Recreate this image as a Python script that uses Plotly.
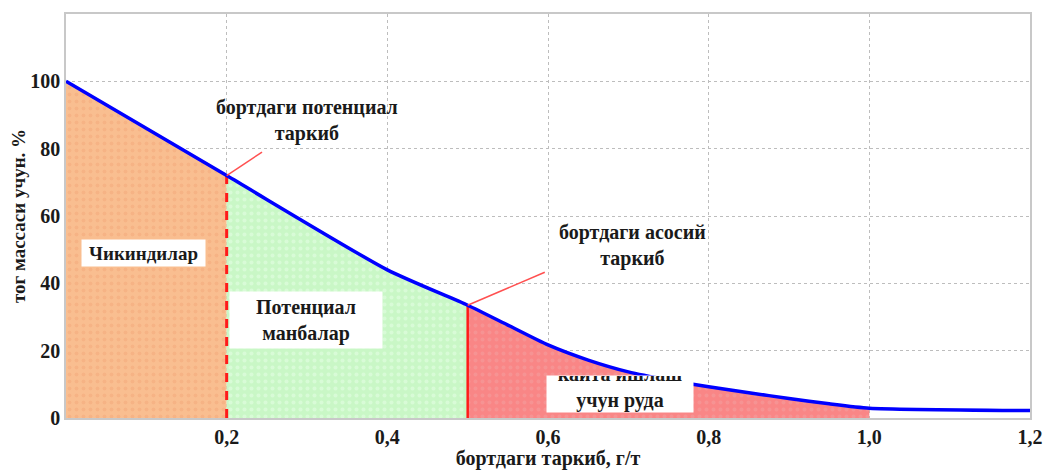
import plotly.graph_objects as go

# Data
grade = [0.0, 0.2, 0.4, 0.5, 0.55, 0.6, 0.65, 0.7, 0.75, 0.8, 0.85, 0.9, 0.95, 1.0, 1.2]
mass_pct = [100, 72, 44, 33.5, 27.6, 21.7, 17.2, 13.7, 11.3, 9.3, 7.5, 5.8, 4.2, 2.9, 2.2]
x_ticks = [0.2, 0.4, 0.6, 0.8, 1.0, 1.2]
x_tick_labels = ["0,2", "0,4", "0,6", "0,8", "1,0", "1,2"]
y_ticks = [0, 20, 40, 60, 80, 100]
y_tick_labels = ["0", "20", "40", "60", "80", "100"]
potential_cutoff = 0.2
main_cutoff = 0.5
reprocess_end = 1.0

FONT = "Liberation Serif"
TXT = "#1a1a1a"

def segment(x0, x1):
    xs = [x for x in grade if x0 <= x <= x1]
    ys = [y for x, y in zip(grade, mass_pct) if x0 <= x <= x1]
    return xs, ys

def y_at(xv):
    return mass_pct[grade.index(xv)]

fig = go.Figure()

regions = [
    (0.0, potential_cutoff, "#F9BE90", "#F3A87A"),
    (potential_cutoff, main_cutoff, "#C9F7C6", "#E8FFE8"),
    (main_cutoff, reprocess_end, "#F98686", "#F3A0A0"),
]
for x0, x1, col, dot in regions:
    xs, ys = segment(x0, x1)
    fig.add_trace(go.Scatter(
        x=xs, y=ys, mode="lines", line=dict(width=0, color=col, shape="spline", smoothing=0.6),
        fill="tozeroy", fillcolor=col,
        fillpattern=dict(shape=".", bgcolor=col, fgcolor=dot, size=7, solidity=0.25),
        hoverinfo="skip", showlegend=False))

# cutoff lines
fig.add_trace(go.Scatter(x=[potential_cutoff, potential_cutoff], y=[0, y_at(potential_cutoff)],
                         mode="lines", line=dict(color="#FF1A1A", width=3, dash="dash"),
                         showlegend=False, hoverinfo="skip"))
fig.add_trace(go.Scatter(x=[main_cutoff, main_cutoff], y=[0, y_at(main_cutoff)],
                         mode="lines", line=dict(color="#FF1A1A", width=2.5),
                         showlegend=False, hoverinfo="skip"))

# main curve
fig.add_trace(go.Scatter(x=grade, y=mass_pct, mode="lines",
                         line=dict(color="#0000FF", width=3.5, shape="spline", smoothing=0.6),
                         showlegend=False))

# leader lines
fig.add_trace(go.Scatter(x=[potential_cutoff, 0.244], y=[y_at(potential_cutoff), 79],
                         mode="lines", line=dict(color="#FF5050", width=1.5),
                         showlegend=False, hoverinfo="skip"))
fig.add_trace(go.Scatter(x=[main_cutoff, 0.596], y=[y_at(main_cutoff), 43.3],
                         mode="lines", line=dict(color="#FF5050", width=1.5),
                         showlegend=False, hoverinfo="skip"))

def label(x, y, text, bg=None, size=20, w=None, h=None, valign="middle"):
    fig.add_annotation(x=x, y=y, text=text, showarrow=False,
                       font=dict(family=FONT, size=size, color=TXT, weight="bold"),
                       bgcolor=bg, borderpad=0, align="center", valign=valign,
                       width=w, height=h)

label(0.30, 88.4, "бортдаги потенциал<br>таркиб")
label(0.705, 51.3, "бортдаги асосий<br>таркиб")
label(0.096, 49, "Чикиндилар", bg="white", size=19, w=123, h=26)
label(0.299, 29, "Потенциал<br>манбалар", bg="white", size=20, w=152, h=56)
label(0.69, 7.0, "кайта ишлаш<br>учун руда", bg="white", size=20, w=146, h=36, valign="bottom")

axis_common = dict(
    showgrid=True, gridcolor="#BDBDBD", griddash="dot", gridwidth=1,
    showline=True, mirror=True, linecolor="#C8C8C8", linewidth=1.5,
    zeroline=False, ticks="", automargin=False,
    tickfont=dict(family=FONT, size=20, color=TXT, weight="bold"),
)

fig.update_layout(
    width=1046, height=470,
    margin=dict(l=66, r=16, t=14, b=52),
    paper_bgcolor="white", plot_bgcolor="white",
    xaxis=dict(range=[0, 1.2], tickvals=x_ticks, ticktext=x_tick_labels,
               title=dict(text="бортдаги таркиб, г/т", standoff=4,
                          font=dict(family=FONT, size=20, color=TXT, weight="bold")),
               **axis_common),
    yaxis=dict(range=[0, 120], tickvals=y_ticks, ticktext=y_tick_labels,
               title=dict(text="тог массаси учун. %", standoff=0,
                          font=dict(family=FONT, size=19, color=TXT, weight="bold")),
               **axis_common),
)

fig.write_html("out.html", config={"displayModeBar": False},
               post_script="document.body.style.margin='0';")
